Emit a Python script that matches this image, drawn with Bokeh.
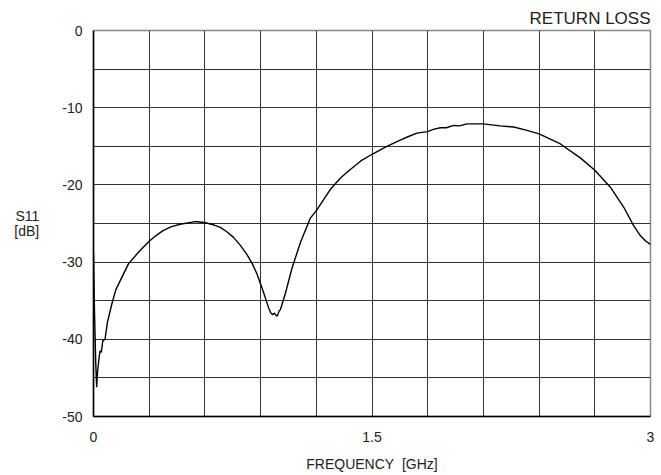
from bokeh.plotting import figure
from bokeh.models import Range1d, FixedTicker
from bokeh.embed import file_html
from bokeh.resources import INLINE

# Data
freq_ghz = [0.0, 0.005, 0.012, 0.017, 0.022, 0.028, 0.035, 0.042, 0.05, 0.062,
            0.075, 0.099, 0.12, 0.144, 0.189, 0.243, 0.30, 0.34, 0.377, 0.42,
            0.467, 0.548, 0.603, 0.65, 0.683, 0.72, 0.754, 0.79, 0.826, 0.855,
            0.880, 0.913, 0.943, 0.955, 0.965, 0.975, 0.983, 0.99, 1.0, 1.006,
            1.033, 1.069, 1.114, 1.168, 1.204, 1.275, 1.33, 1.383, 1.44, 1.503,
            1.58, 1.652, 1.70, 1.742, 1.77, 1.80, 1.83, 1.868, 1.90, 1.94,
            1.97, 2.012, 2.10, 2.19, 2.263, 2.33, 2.40, 2.515, 2.622, 2.70,
            2.784, 2.856, 2.91, 2.946, 2.975, 3.0]
s11_db = [-28.8, -36.0, -43.0, -46.2, -44.2, -42.8, -41.5, -41.7, -40.2, -40.0,
          -37.8, -35.4, -33.6, -32.4, -30.2, -28.7, -27.3, -26.5, -25.9, -25.4,
          -25.1, -24.75, -24.9, -25.2, -25.5, -26.1, -26.8, -27.8, -29.0, -30.2,
          -31.5, -33.7, -35.9, -36.6, -36.8, -36.6, -36.9, -37.0, -36.3, -36.2,
          -34.1, -30.8, -27.5, -24.3, -23.2, -20.6, -19.1, -18.0, -16.9, -16.0,
          -15.0, -14.2, -13.7, -13.3, -13.2, -13.1, -12.8, -12.6, -12.6, -12.3,
          -12.35, -12.1, -12.1, -12.35, -12.5, -12.9, -13.4, -14.7, -16.5, -18.1,
          -20.3, -22.9, -25.3, -26.6, -27.3, -27.7]

x_ticks = [0, 1.5, 3]
x_tick_labels = ["0", "1.5", "3"]
y_ticks = [-50, -40, -30, -20, -10, 0]
y_tick_labels = ["-50", "-40", "-30", "-20", "-10", "0"]
x_grid = [0.3 * i for i in range(11)]
y_grid = [-50 + 5 * i for i in range(11)]

FONT = "Liberation Sans"
TXT = "#222222"

p = figure(width=661, height=475, output_backend="svg", toolbar_location=None,
           x_range=Range1d(0, 3), y_range=Range1d(-50, 0),
           min_border_left=93, min_border_right=11, min_border_top=30,
           min_border_bottom=59)
p.background_fill_color = "white"
p.border_fill_color = "white"
p.outline_line_color = "#888888"
p.outline_line_width = 1.5

p.title.text = "RETURN LOSS"
p.title.align = "right"
p.title.text_font = FONT
p.title.text_font_size = "17px"
p.title.text_font_style = "normal"
p.title.text_color = TXT
p.title.standoff = 5

p.xaxis.ticker = FixedTicker(ticks=x_ticks)
p.yaxis.ticker = FixedTicker(ticks=y_ticks)
p.xaxis.major_label_overrides = {t: l for t, l in zip(x_ticks, x_tick_labels)}
p.yaxis.major_label_overrides = {t: l for t, l in zip(y_ticks, y_tick_labels)}
for ax in (p.xaxis, p.yaxis):
    ax.major_tick_out = 0
    ax.major_tick_in = 0
    ax.minor_tick_out = 0
    ax.minor_tick_in = 0
    ax.axis_line_color = "black"
    ax.axis_line_width = 1.5
    ax.major_label_text_font = FONT
    ax.major_label_text_font_size = "14px"
    ax.major_label_text_color = TXT
    ax.axis_label_text_font = FONT
    ax.axis_label_text_font_size = "14px"
    ax.axis_label_text_font_style = "normal"
    ax.axis_label_text_color = TXT
p.xaxis.major_label_standoff = 15
p.yaxis.major_label_standoff = 11

p.xaxis.axis_label = "FREQUENCY\u00a0\u00a0[GHz]"
p.xaxis.axis_label_standoff = 11
p.yaxis.axis_label = "S11\n[dB]"
p.yaxis.axis_label_orientation = "horizontal"
p.yaxis.axis_label_standoff = 20
p.yaxis.axis_label_text_align = "center"
p.yaxis.axis_label_text_line_height = 0.95

p.xgrid.ticker = FixedTicker(ticks=x_grid)
p.ygrid.ticker = FixedTicker(ticks=y_grid)
p.xgrid.grid_line_color = "#333333"
p.ygrid.grid_line_color = "#333333"
p.xgrid.grid_line_width = 1
p.ygrid.grid_line_width = 1

p.line(freq_ghz, s11_db, line_color="black", line_width=1.4)

open("out.html", "w").write(file_html(p, INLINE))
